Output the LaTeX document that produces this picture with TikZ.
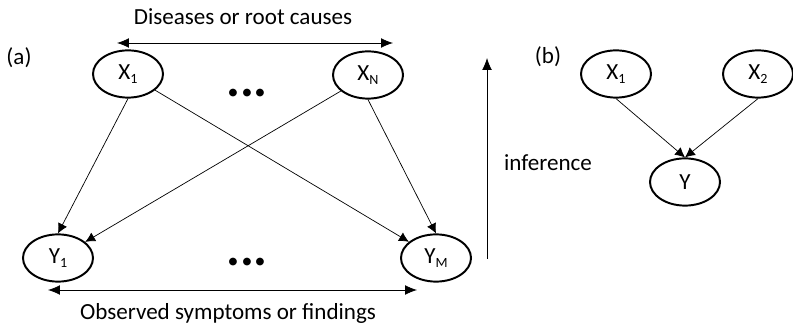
\documentclass[tikz,border=0pt]{standalone}
\usepackage{fontspec}
\setmainfont{Carlito}
\usetikzlibrary{shapes.geometric,arrows.meta}
% lowered small index, as in X_1
\newcommand{\lowsub}[1]{\raisebox{-2.4pt}{\fontsize{10}{10}\selectfont #1}}

\begin{document}
\begin{tikzpicture}[x=0.025cm,y=-0.025cm,font=\fontsize{16.4}{19}\selectfont]
    \tikzstyle{var}=[ellipse, draw, line width=1.4pt, minimum width=1.75cm, minimum height=1.18cm, inner sep=0pt]
    \tikzstyle{edge}=[-{Latex[length=7pt,width=7pt]}, line width=0.5pt]
    \tikzstyle{span}=[{Latex[length=8.5pt,width=7pt]}-{Latex[length=8.5pt,width=7pt]}, line width=0.6pt]
    \useasboundingbox (0,0) rectangle (793,326);

    % (a) root causes and findings
    \node (la) at (19,58) {(a)};
    \node[var] (X1) at (128,74) {X\lowsub{1}};
    \node[var] (XN) at (368,75) {X\lowsub{N}};
    \node[var] (Y1) at (58,258) {Y\lowsub{1}};
    \node[var] (YM) at (436,258) {Y\lowsub{M}};
    \node[anchor=base] (dtop) at (247,97) {\fontsize{37}{37}\selectfont\textbf{...}};
    \node[anchor=base] (dbot) at (247,266) {\fontsize{37}{37}\selectfont\textbf{...}};

    \draw[edge] (X1.south) -- (Y1.north);
    \draw[edge] (X1) -- (YM);
    \draw[edge] (XN) -- (Y1);
    \draw[edge] (XN.south) -- (YM.north);

    \coordinate (tl) at (117,43);
    \coordinate (tr) at (393,43);
    \coordinate (bl) at (48,290);
    \coordinate (br) at (417,290);
    \draw[span] (tl) -- (tr);
    \draw[span] (bl) -- (br);
    \node (top) at (243,17) {Diseases or root causes};
    \node (bot) at (228,313) {Observed symptoms or findings};

    % inference goes upwards
    \coordinate (ilow) at (487,259);
    \coordinate (ihigh) at (487,58);
    \draw[-{Latex[length=8.5pt,width=7pt]}, line width=0.6pt] (ilow) -- (ihigh);
    \node (inf) at (548,163) {inference};

    % (b) two causes, one effect
    \node (lb) at (548,57) {(b)};
    \node[var] (A1) at (616,74) {X\lowsub{1}};
    \node[var] (A2) at (758,74) {X\lowsub{2}};
    \node[var] (B) at (685,182) {Y};
    \draw[edge] (A1.south) -- (B.north);
    \draw[edge] (A2.south) -- (B.north);
\end{tikzpicture}
\end{document}
